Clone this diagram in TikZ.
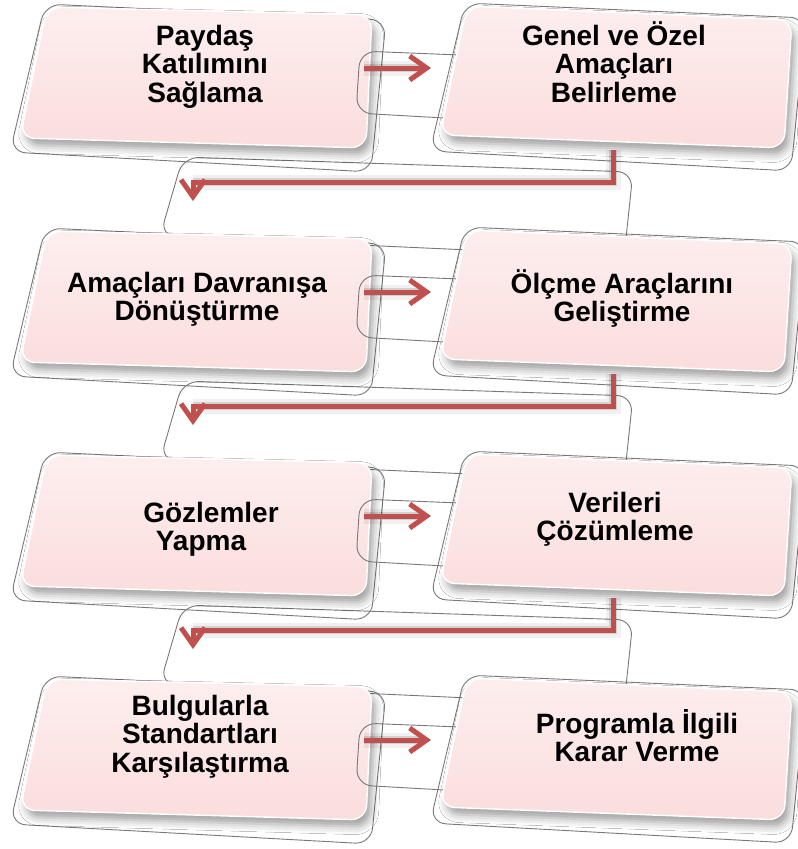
\documentclass[tikz,border=0pt]{standalone}
\usepackage{fontspec}
\setmainfont{Liberation Sans}
\usetikzlibrary{arrows.meta,shadows.blur}
\definecolor{arr}{RGB}{192,80,77}
\definecolor{pinkT}{RGB}{253,238,238}
\definecolor{pinkB}{RGB}{251,221,221}
\definecolor{outl}{RGB}{120,120,120}
\newcommand\firststrut{\rule{0pt}{26pt}}
\tikzset{
  outline/.style={draw=outl, line width=0.9pt, rounded corners=16pt},
  pinkbox/.style={rounded corners=15pt, top color=pinkT, bottom color=pinkB,
    draw=white, line width=1.4pt,
    blur shadow={shadow xshift=4pt, shadow yshift=-7pt, shadow blur radius=8pt, shadow opacity=38}},
  boxtext/.style={font=\bfseries\fontsize{28}{28.5}\selectfont, align=center, text=black,
    inner sep=0pt, anchor=north},
  conn/.style={draw=arr, line width=5pt, -{Straight Barb[length=17pt,width=24pt,line width=5pt]}},
  ashadowA/.style={draw=black, opacity=0.06, line width=15pt, xshift=3pt, yshift=-8pt},
  ashadowB/.style={draw=black, opacity=0.12, line width=8pt, xshift=3pt, yshift=-7pt},
}
\begin{document}
\begin{tikzpicture}[x=1pt,y=-1pt]
\useasboundingbox (0,0) rectangle (798,849);
\fill[white] (0,0) rectangle (798,849);
% outlines of boxes
\foreach \r in {0,1,2,3}{
  \pgfmathsetmacro\dy{224*\r}
  \draw[outline] (45,4+\dy) -- (386,20+\dy) -- (371,172+\dy) -- (10,152+\dy) -- cycle;
  \draw[outline] (465,3+\dy) -- (806,18+\dy) -- (791,171+\dy) -- (430,151+\dy) -- cycle;
}
% outlines of down connectors
\foreach \r in {0,1,2}{
  \pgfmathsetmacro\dy{224*\r}
  \draw[outline] (183,157+\dy) -- (633,172+\dy) -- (624,257+\dy) -- (160,236+\dy) -- cycle;
}
% left boxes
\foreach \r in {0,1,2,3}{
  \pgfmathsetmacro\dy{224*\r}
  \path[pinkbox] (47,7+\dy) -- (372,15+\dy) -- (366,148+\dy) -- (20,138+\dy) -- cycle;
}
% outlines of horizontal connectors
\foreach \r in {0,1,2,3}{
  \pgfmathsetmacro\dy{224*\r}
  \draw[outline] (360,51+\dy) -- (485,56+\dy) -- (480,120+\dy) -- (356,113+\dy) -- cycle;
}
% right boxes
\foreach \r in {0,1,2,3}{
  \pgfmathsetmacro\dy{224*\r}
  \path[pinkbox] (467,6+\dy) -- (792,20+\dy) -- (784,148+\dy) -- (440,135+\dy) -- cycle;
}
% texts (node top = first baseline - 26)
\node[boxtext] (t1) at (205,19) {\firststrut Paydaş\\Katılımını\\Sağlama};
\node[boxtext] (t2) at (614,19) {\firststrut Genel ve Özel\\Amaçları\\Belirleme};
\node[boxtext] (t3) at (197,266) {\firststrut Amaçları Davranışa\\Dönüştürme};
\node[boxtext] (t4) at (622,267) {\firststrut Ölçme Araçlarını\\Geliştirme};
\node[boxtext] (t5) at (211,496) {\firststrut Gözlemler\\Yapma\hspace*{20pt}};
\node[boxtext] (t6) at (615,486) {\firststrut Verileri\\Çözümleme};
\node[boxtext] (t7) at (200,689) {\firststrut Bulgularla\\Standartları\\Karşılaştırma};
\node[boxtext] (t8) at (637,707) {\firststrut Programla İlgili\\Karar Verme};
% connectors
\foreach \r in {0,1,2,3}{
  \pgfmathsetmacro\dy{224*\r}
  \coordinate (hs\r) at (364,68+\dy);
  \coordinate (he\r) at (431,68+\dy);
  \draw[ashadowA] (hs\r) -- ([xshift=-8pt]he\r);
  \draw[ashadowB] (hs\r) -- ([xshift=-8pt]he\r);
  \draw[conn] (hs\r) -- (he\r);
}
\foreach \r in {0,1,2}{
  \pgfmathsetmacro\dy{224*\r}
  \coordinate (ds\r) at (613,150+\dy);
  \coordinate (dm\r) at (193,182+\dy);
  \coordinate (de\r) at (193,201+\dy);
  \draw[ashadowA] (ds\r) |- (dm\r);
  \draw[ashadowB] (ds\r) |- (dm\r);
  \draw[conn] (ds\r) |- (dm\r) -- (de\r);
}
\end{tikzpicture}
\end{document}
